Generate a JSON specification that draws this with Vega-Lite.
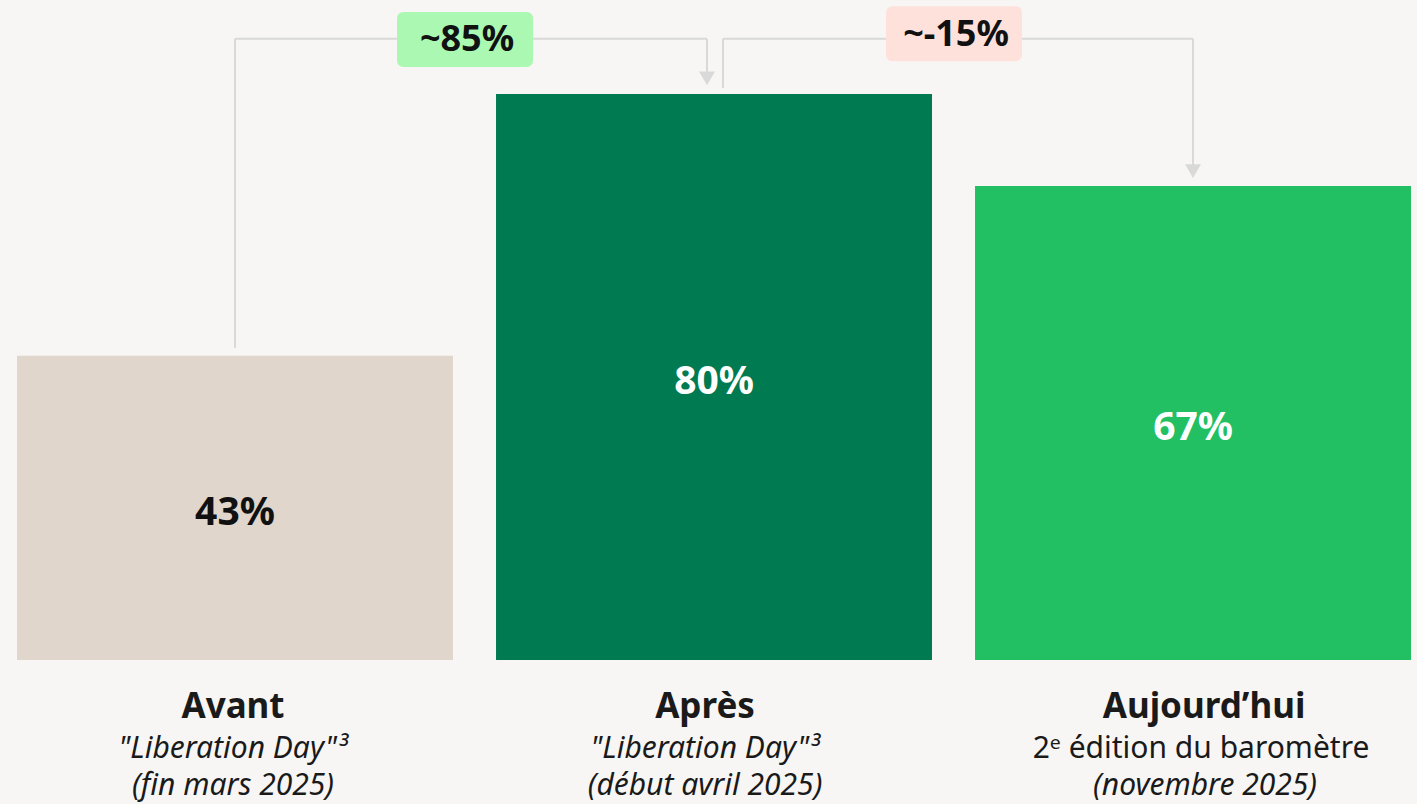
{
  "$schema": "https://vega.github.io/schema/vega-lite/v6.json",
  "width": 1417,
  "height": 660,
  "autosize": {"type": "none"},
  "padding": {"left": 0, "top": 0, "right": 0, "bottom": 144},
  "background": "#F7F6F4",
  "config": {"view": {"stroke": null}, "font": "Noto Sans"},
  "datasets": {
    "bars": [
      {"cat": "Avant", "value": 43, "label": "43%", "title": "Avant", "sub": "\"Liberation Day\"³", "date": "(fin mars 2025)"},
      {"cat": "Après", "value": 80, "label": "80%", "title": "Après", "sub": "\"Liberation Day\"³", "date": "(début avril 2025)"},
      {"cat": "Aujourd’hui", "value": 67, "label": "67%", "title": "Aujourd’hui", "sub": "2ᵉ édition du baromètre", "date": "(novembre 2025)"}
    ]
  },
  "resolve": {"scale": {"y": "independent", "color": "independent"}},
  "encoding": {
    "x": {
      "field": "cat", "type": "nominal", "sort": null,
      "scale": {"domain": ["Avant", "Après", "Aujourd’hui"], "paddingInner": 0.0898, "paddingOuter": 0.024, "align": 0.74},
      "axis": null
    }
  },
  "layer": [
    {
      "data": {"name": "bars"},
      "mark": {"type": "bar"},
      "encoding": {
        "y": {"field": "value", "type": "quantitative", "scale": {"domain": [0, 93.28], "nice": false}, "axis": null},
        "color": {"field": "cat", "type": "nominal", "scale": {"domain": ["Avant", "Après", "Aujourd’hui"], "range": ["#E0D6CC", "#007A50", "#22C063"]}, "legend": null}
      }
    },
    {
      "data": {"name": "bars"},
      "mark": {"type": "text", "fontSize": 39, "fontWeight": "bold", "baseline": "middle", "align": "center", "dy": 5},
      "encoding": {
        "y": {"field": "value", "type": "quantitative", "scale": {"domain": [0, 186.56], "nice": false}, "axis": null},
        "text": {"field": "label"},
        "color": {"field": "cat", "type": "nominal", "scale": {"domain": ["Avant", "Après", "Aujourd’hui"], "range": ["#111111", "#FFFFFF", "#FFFFFF"]}, "legend": null}
      }
    },
    {
      "data": {"name": "bars"},
      "transform": [{"filter": {"field": "cat", "equal": "Avant"}}],
      "encoding": {
        "y": {"datum": 0, "type": "quantitative", "scale": {"domain": [0, 93.28], "nice": false}, "axis": null}
      },
      "layer": [
        {"mark": {"type": "text", "fontSize": 35, "fontWeight": "bold", "baseline": "alphabetic", "align": "center", "dy": 58, "xOffset": -2, "color": "#1A1A1A"}, "encoding": {"text": {"field": "title"}}},
        {"mark": {"type": "text", "fontSize": 30, "fontStyle": "italic", "baseline": "alphabetic", "align": "center", "dy": 98, "xOffset": -2, "color": "#1A1A1A"}, "encoding": {"text": {"field": "sub"}}},
        {"mark": {"type": "text", "fontSize": 30, "fontStyle": "italic", "baseline": "alphabetic", "align": "center", "dy": 135, "xOffset": -2, "color": "#1A1A1A"}, "encoding": {"text": {"field": "date"}}}
      ]
    },
    {
      "data": {"name": "bars"},
      "transform": [{"filter": {"field": "cat", "equal": "Après"}}],
      "encoding": {
        "y": {"datum": 0, "type": "quantitative", "scale": {"domain": [0, 93.28], "nice": false}, "axis": null}
      },
      "layer": [
        {"mark": {"type": "text", "fontSize": 35, "fontWeight": "bold", "baseline": "alphabetic", "align": "center", "dy": 58, "xOffset": -9, "color": "#1A1A1A"}, "encoding": {"text": {"field": "title"}}},
        {"mark": {"type": "text", "fontSize": 30, "fontStyle": "italic", "baseline": "alphabetic", "align": "center", "dy": 98, "xOffset": -9, "color": "#1A1A1A"}, "encoding": {"text": {"field": "sub"}}},
        {"mark": {"type": "text", "fontSize": 30, "fontStyle": "italic", "baseline": "alphabetic", "align": "center", "dy": 135, "xOffset": -9, "color": "#1A1A1A"}, "encoding": {"text": {"field": "date"}}}
      ]
    },
    {
      "data": {"name": "bars"},
      "transform": [{"filter": {"field": "cat", "equal": "Aujourd’hui"}}],
      "encoding": {
        "y": {"datum": 0, "type": "quantitative", "scale": {"domain": [0, 93.28], "nice": false}, "axis": null}
      },
      "layer": [
        {"mark": {"type": "text", "fontSize": 35, "fontWeight": "bold", "baseline": "alphabetic", "align": "center", "dy": 58, "xOffset": 11, "color": "#1A1A1A"}, "encoding": {"text": {"field": "title"}}},
        {"mark": {"type": "text", "fontSize": 30, "baseline": "alphabetic", "align": "center", "dy": 98, "xOffset": 8, "color": "#1A1A1A"}, "encoding": {"text": {"field": "sub"}}},
        {"mark": {"type": "text", "fontSize": 30, "fontStyle": "italic", "baseline": "alphabetic", "align": "center", "dy": 135, "xOffset": 12, "color": "#1A1A1A"}, "encoding": {"text": {"field": "date"}}}
      ]
    },
    {
      "data": {"values": [{"cat": "Avant", "low": 44.1, "high": 87.8}]},
      "mark": {"type": "rule", "color": "#D9D9D9", "strokeWidth": 2},
      "encoding": {
        "y": {"field": "low", "type": "quantitative", "scale": {"domain": [0, 93.28], "nice": false}, "axis": null},
        "y2": {"field": "high"}
      }
    },
    {
      "data": {"values": [{"cat": "Avant", "to": "Après", "level": 87.8}]},
      "mark": {"type": "rule", "color": "#D9D9D9", "strokeWidth": 2, "x2Offset": -7},
      "encoding": {
        "x2": {"field": "to"},
        "y": {"field": "level", "type": "quantitative", "scale": {"domain": [0, 93.28], "nice": false}, "axis": null}
      }
    },
    {
      "data": {"values": [{"cat": "Après", "low": 82.5, "high": 87.8}]},
      "mark": {"type": "rule", "color": "#D9D9D9", "strokeWidth": 2, "xOffset": -7},
      "encoding": {
        "y": {"field": "low", "type": "quantitative", "scale": {"domain": [0, 93.28], "nice": false}, "axis": null},
        "y2": {"field": "high"}
      }
    },
    {
      "data": {"values": [{"cat": "Après", "tip": 82.2}]},
      "mark": {"type": "point", "shape": "triangle-down", "filled": true, "size": 256, "color": "#D9D9D9", "opacity": 1, "xOffset": -7},
      "encoding": {
        "y": {"field": "tip", "type": "quantitative", "scale": {"domain": [0, 93.28], "nice": false}, "axis": null}
      }
    },
    {
      "data": {"values": [{"cat": "Après", "low": 80.85, "high": 87.8}]},
      "mark": {"type": "rule", "color": "#D9D9D9", "strokeWidth": 2, "xOffset": 9},
      "encoding": {
        "y": {"field": "low", "type": "quantitative", "scale": {"domain": [0, 93.28], "nice": false}, "axis": null},
        "y2": {"field": "high"}
      }
    },
    {
      "data": {"values": [{"cat": "Après", "to": "Aujourd’hui", "level": 87.8}]},
      "mark": {"type": "rule", "color": "#D9D9D9", "strokeWidth": 2, "xOffset": 9},
      "encoding": {
        "x2": {"field": "to"},
        "y": {"field": "level", "type": "quantitative", "scale": {"domain": [0, 93.28], "nice": false}, "axis": null}
      }
    },
    {
      "data": {"values": [{"cat": "Aujourd’hui", "low": 69.5, "high": 87.8}]},
      "mark": {"type": "rule", "color": "#D9D9D9", "strokeWidth": 2},
      "encoding": {
        "y": {"field": "low", "type": "quantitative", "scale": {"domain": [0, 93.28], "nice": false}, "axis": null},
        "y2": {"field": "high"}
      }
    },
    {
      "data": {"values": [{"cat": "Aujourd’hui", "tip": 69.1}]},
      "mark": {"type": "point", "shape": "triangle-down", "filled": true, "size": 256, "color": "#D9D9D9", "opacity": 1},
      "encoding": {
        "y": {"field": "tip", "type": "quantitative", "scale": {"domain": [0, 93.28], "nice": false}, "axis": null}
      }
    },
    {
      "data": {"values": [{"cat": "Avant", "level": 87.7, "label": "~85%"}]},
      "mark": {"type": "point", "shape": "M-2.218,-1L2.218,-1Q2.473,-1 2.473,-0.745L2.473,0.745Q2.473,1 2.218,1L-2.218,1Q-2.473,1 -2.473,0.745L-2.473,-0.745Q-2.473,-1 -2.218,-1Z", "filled": true, "size": 3025, "color": "#AAF8B1", "opacity": 1, "strokeWidth": 0, "xOffset": 230},
      "encoding": {
        "y": {"field": "level", "type": "quantitative", "scale": {"domain": [0, 93.28], "nice": false}, "axis": null}
      }
    },
    {
      "data": {"values": [{"cat": "Avant", "level": 87.7, "label": "~85%"}]},
      "mark": {"type": "text", "fontSize": 36, "fontWeight": "bold", "baseline": "middle", "align": "center", "color": "#111111", "xOffset": 232, "dy": 1},
      "encoding": {
        "y": {"field": "level", "type": "quantitative", "scale": {"domain": [0, 93.28], "nice": false}, "axis": null},
        "text": {"field": "label"}
      }
    },
    {
      "data": {"values": [{"cat": "Après", "level": 88.5, "label": "~-15%"}]},
      "mark": {"type": "point", "shape": "M-2.218,-1L2.218,-1Q2.473,-1 2.473,-0.745L2.473,0.745Q2.473,1 2.218,1L-2.218,1Q-2.473,1 -2.473,0.745L-2.473,-0.745Q-2.473,-1 -2.218,-1Z", "filled": true, "size": 3025, "color": "#FFE1DC", "opacity": 1, "strokeWidth": 0, "xOffset": 240},
      "encoding": {
        "y": {"field": "level", "type": "quantitative", "scale": {"domain": [0, 93.28], "nice": false}, "axis": null}
      }
    },
    {
      "data": {"values": [{"cat": "Après", "level": 88.5, "label": "~-15%"}]},
      "mark": {"type": "text", "fontSize": 36, "fontWeight": "bold", "baseline": "middle", "align": "center", "color": "#111111", "xOffset": 242, "dy": 1},
      "encoding": {
        "y": {"field": "level", "type": "quantitative", "scale": {"domain": [0, 93.28], "nice": false}, "axis": null},
        "text": {"field": "label"}
      }
    }
  ]
}
